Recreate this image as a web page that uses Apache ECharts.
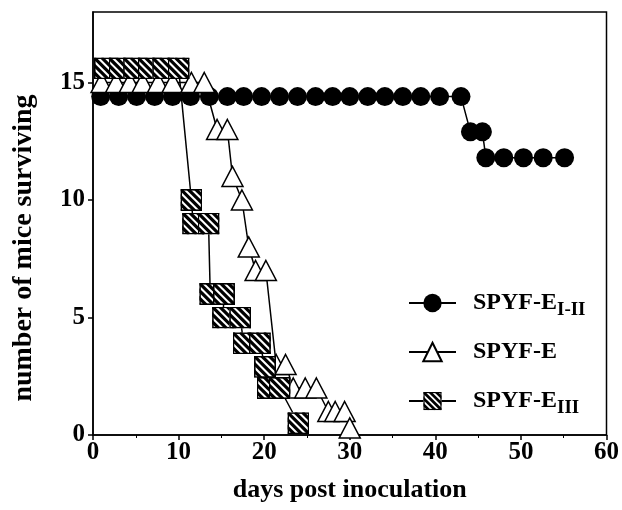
<!DOCTYPE html>
<html>
<head>
<meta charset="utf-8">
<script src="https://cdn.jsdelivr.net/npm/echarts@6/dist/echarts.min.js"></script>
<style>html,body{margin:0;padding:0;background:#fff;}#c{width:622px;height:510px;}</style>
</head>
<body>
<div id="c"></div>
<script>
// ---- data ----
const seriesNames = ['SPYF-E I-II', 'SPYF-E', 'SPYF-E III'];
const xTicks = [0, 10, 20, 30, 40, 50, 60];
const yTicks = [0, 5, 10, 15];

const circleDays   = [0.9, 3.0, 5.1, 7.2, 9.3, 11.4, 13.6, 15.7, 17.6, 19.7, 21.8, 23.9, 26.0, 28.0, 30.0, 32.1, 34.1, 36.2, 38.3, 40.5, 43.0, 44.1, 45.5, 45.9, 48.0, 50.3, 52.6, 55.1];
const circleCounts = [14.4, 14.4, 14.4, 14.4, 14.4, 14.4, 14.4, 14.4, 14.4, 14.4, 14.4, 14.4, 14.4, 14.4, 14.4, 14.4, 14.4, 14.4, 14.4, 14.4, 14.4, 12.9, 12.9, 11.8, 11.8, 11.8, 11.8, 11.8];

const triDays   = [1.0, 2.7, 4.3, 5.8, 7.6, 9.3, 11.5, 13.0, 14.5, 15.7, 16.3, 17.4, 18.2, 19.0, 20.2, 21.4, 22.5, 23.4, 24.8, 26.1, 27.5, 28.3, 29.4, 30.0];
const triCounts = [15, 15, 15, 15, 15, 15, 15, 15, 13, 13, 11, 10, 8, 7, 7, 3, 3, 2, 2, 2, 1, 1, 1, 0.3];

const sqDays   = [1.4, 3.1, 4.8, 6.5, 8.2, 10.0, 11.5, 11.7, 13.5, 13.7, 15.3, 15.2, 17.2, 17.6, 19.5, 20.1, 20.4, 21.8, 24.0];
const sqCounts = [15.6, 15.6, 15.6, 15.6, 15.6, 15.6, 10, 9, 9, 6, 6, 5, 5, 3.9, 3.9, 2.9, 2, 2, 0.5];

const xTitle = 'days post inoculation';
const yTitle = 'number of mice surviving';

// ---- styling ----
const FONT = '"Liberation Serif", "DejaVu Serif", serif';
function zip(a, b) { return a.map((v, i) => [v, b[i]]); }

function hatchSymbol() {
  let lines = '';
  for (let x = -30; x <= 30; x += 7.5) {
    lines += `<line x1='${x}' y1='0' x2='${x + 22}' y2='22' stroke='black' stroke-width='3.2'/>`;
  }
  const svg = `<svg xmlns='http://www.w3.org/2000/svg' width='22' height='22' viewBox='0 0 22 22'>` +
    `<defs><clipPath id='k'><rect x='0' y='0' width='22' height='22'/></clipPath></defs>` +
    `<rect x='0' y='0' width='22' height='22' fill='white'/>` +
    `<g clip-path='url(#k)'>${lines}</g>` +
    `<rect x='0.8' y='0.8' width='20.4' height='20.4' fill='none' stroke='black' stroke-width='1.6'/>` +
    `</svg>`;
  return 'image://data:image/svg+xml;charset=utf-8,' + encodeURIComponent(svg);
}

const chart = echarts.init(document.getElementById('c'), null, { renderer: 'canvas' });

const richText = {
  m: { fontFamily: FONT, fontWeight: 'bold', fontSize: 24, color: '#000', padding: [0, 0, 0, 12] },
  s: { fontFamily: FONT, fontWeight: 'bold', fontSize: 19, color: '#000', padding: [14, 0, 0, 0] }
};
function legendFmt(name) {
  if (name === seriesNames[0]) return '{m|SPYF-E}{s|I-II}';
  if (name === seriesNames[2]) return '{m|SPYF-E}{s|III}';
  return '{m|SPYF-E}';
}
function mkLegend(name, top) {
  return {
    data: [name], left: 408, top: top, padding: 0,
    itemWidth: 47, itemHeight: 23, selectedMode: false,
    formatter: legendFmt,
    textStyle: { rich: richText }
  };
}

const axisFont = { fontFamily: FONT, fontWeight: 'bold', fontSize: 25, color: '#000' };
const lineStyle = { color: '#000', width: 1.5 };

chart.setOption({
  animation: false,
  backgroundColor: '#fff',
  grid: { left: 93, right: 11, top: 12, bottom: 75, show: true, borderColor: '#000', borderWidth: 1.5, backgroundColor: 'transparent' },
  legend: [mkLegend(seriesNames[0], 291), mkLegend(seriesNames[1], 340), mkLegend(seriesNames[2], 389)],
  graphic: [{
    type: 'text', x: 24, y: 248, rotation: Math.PI / 2,
    style: { text: yTitle, fontFamily: FONT, fontWeight: 'bold', fontSize: 28, fill: '#000', align: 'center', verticalAlign: 'middle' }
  }],
  xAxis: {
    type: 'value', min: xTicks[0], max: xTicks[xTicks.length - 1], interval: 10,
    name: xTitle, nameLocation: 'middle', nameGap: 42,
    nameTextStyle: { fontFamily: FONT, fontWeight: 'bold', fontSize: 26, color: '#000' },
    axisLine: { show: true, lineStyle: lineStyle },
    axisTick: { show: true, inside: false, length: 5, lineStyle: lineStyle },
    minorTick: { show: true, splitNumber: 2, length: 3, lineStyle: { color: '#000', width: 1 } },
    axisLabel: Object.assign({ margin: 5 }, axisFont),
    splitLine: { show: false }
  },
  yAxis: {
    type: 'value', min: yTicks[0], max: 18, interval: 5,
    axisLine: { show: true, lineStyle: lineStyle },
    axisTick: { show: true, inside: false, length: 5, lineStyle: lineStyle },
    axisLabel: Object.assign({ margin: 8, showMaxLabel: false }, axisFont),
    splitLine: { show: false }
  },
  series: [
    {
      name: seriesNames[0], type: 'line', data: zip(circleDays, circleCounts),
      symbol: 'circle', symbolSize: 19, showAllSymbol: true,
      lineStyle: lineStyle, itemStyle: { color: '#000', borderColor: '#000', borderWidth: 0 }
    },
    {
      name: seriesNames[1], type: 'line', data: zip(triDays, triCounts),
      symbol: 'triangle', symbolSize: [21, 20], showAllSymbol: true,
      lineStyle: lineStyle, itemStyle: { color: '#fff', borderColor: '#000', borderWidth: 1.5 }
    },
    {
      name: seriesNames[2], type: 'line', data: zip(sqDays, sqCounts),
      symbol: hatchSymbol(), symbolSize: 22, showAllSymbol: true,
      lineStyle: lineStyle, itemStyle: { color: '#000', borderColor: '#000' }
    }
  ]
});
</script>
</body>
</html>
